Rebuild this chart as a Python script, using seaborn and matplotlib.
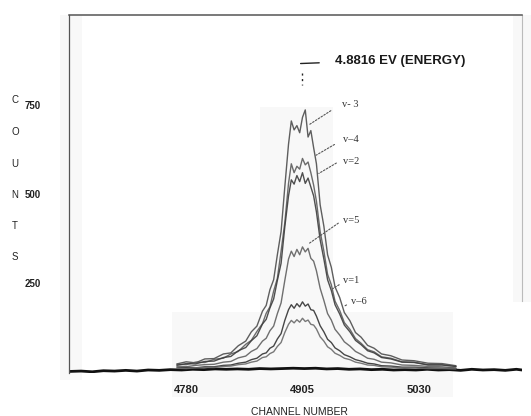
import matplotlib
matplotlib.use("Agg")
import matplotlib.pyplot as plt
from matplotlib.patches import Rectangle
import numpy as np
import pandas as pd
import seaborn as sns

# ---------------- data ----------------
channels = [4770, 4780, 4790, 4800, 4810, 4820, 4828, 4836, 4844, 4850,
            4856, 4862, 4866, 4870, 4874, 4878, 4882, 4886, 4890, 4893,
            4896, 4899, 4902, 4905, 4908, 4911, 4914, 4917, 4920, 4924,
            4928, 4932, 4936, 4940, 4945, 4950, 4956, 4962, 4968, 4975,
            4982, 4990, 5000, 5012, 5025, 5040, 5055, 5070]

v3 = [24, 30, 27, 38, 39, 52, 55, 75, 88, 114, 130, 172, 188, 232, 260, 330,
      395, 520, 640, 705, 680, 692, 672, 715, 736, 660, 678, 630, 585, 470,
      410, 330, 295, 240, 210, 168, 145, 112, 99, 76, 68, 52, 47, 35, 33, 26, 25, 19]
v4 = [23, 22, 29, 28, 37, 40, 52, 59, 79, 90, 115, 137, 166, 184, 228, 264,
      340, 420, 530, 585, 560, 578, 570, 600, 582, 590, 560, 525, 480, 395,
      340, 275, 246, 200, 174, 140, 121, 95, 82, 64, 58, 44, 40, 30, 29, 22, 22, 17]
v2 = [20, 25, 24, 31, 32, 42, 45, 61, 70, 89, 103, 136, 149, 181, 206, 258,
      306, 408, 495, 540, 528, 552, 535, 560, 530, 545, 520, 495, 450, 372,
      318, 260, 230, 190, 164, 133, 114, 90, 78, 61, 55, 42, 38, 29, 28, 21, 21, 17]
v5 = [17, 16, 20, 22, 23, 29, 31, 41, 46, 59, 67, 88, 96, 117, 130, 165,
      195, 258, 318, 340, 325, 345, 330, 352, 338, 348, 320, 312, 285, 236,
      202, 165, 147, 121, 105, 86, 74, 59, 51, 40, 37, 29, 27, 21, 20, 17, 16, 13]
v1 = [13, 14, 13, 16, 16, 20, 21, 26, 29, 36, 40, 52, 55, 68, 74, 94,
      109, 146, 176, 190, 180, 193, 184, 198, 186, 192, 176, 174, 158, 131,
      114, 93, 84, 69, 61, 50, 44, 36, 32, 26, 24, 19, 18, 15, 15, 13, 12, 11]
v6 = [12, 11, 13, 14, 14, 17, 18, 22, 24, 29, 32, 42, 44, 53, 58, 73,
      84, 112, 135, 146, 139, 148, 141, 152, 143, 147, 135, 133, 122, 100,
      88, 72, 65, 54, 48, 40, 36, 29, 26, 21, 20, 16, 15, 13, 13, 11, 11, 10]

base_channels = [4655, 4667, 4679, 4691, 4703, 4715, 4727, 4739, 4751, 4763,
                 4775, 4787, 4799, 4811, 4823, 4835, 4847, 4859, 4871, 4883,
                 4895, 4907, 4919, 4931, 4943, 4955, 4967, 4979, 4991, 5003,
                 5015, 5027, 5039, 5051, 5063, 5075, 5087, 5099, 5111, 5123,
                 5135, 5141]
base_counts = [3, 4, 2, 5, 4, 6, 4, 7, 6, 8, 7, 9, 8, 10, 9, 10, 9, 11, 10, 11,
               12, 11, 12, 10, 11, 9, 10, 8, 9, 7, 8, 7, 9, 7, 8, 6, 9, 7, 8, 6, 9, 7]

series_names = ["v=3", "v=4", "v=2", "v=5", "v=1", "v=6"]
series_vals = [v3, v4, v2, v5, v1, v6]
series_colors = ["#4d4d4d", "#5c5c5c", "#3c3c3c", "#606060", "#333333", "#6a6a6a"]

x_ticks = [4780, 4905, 5030]
y_ticks = [250, 500, 750]

# labels: (text, channel, counts, leader_from, leader_to)
curve_labels = [
    ("v- 3", 4947, 750, (4938, 738), (4910, 691)),
    ("v\u20134", 4949, 652, (4942, 643), (4917, 605)),
    ("v=2", 4949, 591, (4944, 591), (4920, 554)),
    ("v=5", 4949, 427, (4946, 423), (4910, 358)),
    ("v=1", 4949, 259, (4947, 250), (4935, 231)),
    ("v\u20136", 4957, 198, (4955, 193), (4950, 186)),
]

# ---------------- build data frame ----------------
rows = []
for name, vals in zip(series_names, series_vals):
    for c, v in zip(channels, vals):
        rows.append({"channel": c, "counts": v, "series": name})
df = pd.DataFrame(rows)
base_df = pd.DataFrame({"channel": base_channels, "counts": base_counts})

# ---------------- figure ----------------
sns.set_style("white")
plt.rcParams["font.family"] = ["Liberation Sans", "DejaVu Sans"]

W, H = 531, 416
fig = plt.figure(figsize=(W / 100, H / 100), dpi=100)

# faint scan shading (behind everything)
for (x0, y0, x1, y1) in [(60, 15, 82, 380), (172, 312, 453, 397),
                         (260, 107, 333, 313), (513, 15, 531, 302)]:
    fig.patches.append(Rectangle((x0 / W, 1 - y1 / H), (x1 - x0) / W, (y1 - y0) / H,
                                 transform=fig.transFigure, facecolor="#f8f8f8",
                                 edgecolor="none", zorder=-10))

ax = fig.add_axes([69 / W, (H - 372.5) / H, (522 - 69) / W, (372.5 - 15) / H])
ax.set_facecolor("none")
ax.set_zorder(5)

sns.lineplot(data=base_df, x="channel", y="counts", color="#111111",
             linewidth=2.0, ax=ax, legend=False, estimator=None)
sns.lineplot(data=df, x="channel", y="counts", hue="series",
             palette=dict(zip(series_names, series_colors)),
             linewidth=1.0, ax=ax, legend=False, estimator=None, alpha=0.9)

ax.set_xlim(4654, 5141)
ax.set_ylim(0, 1002)

ax.set_xticks(x_ticks)
ax.set_xticklabels([str(t) for t in x_ticks], fontsize=8, fontweight="bold")
ax.set_yticks(y_ticks)
ax.set_yticklabels([str(t) for t in y_ticks], fontsize=7, fontweight="bold")
ax.tick_params(axis="y", direction="out", length=6.5, width=0.8, pad=14, colors="#333333")
ax.tick_params(axis="x", direction="out", length=4, width=0.6, pad=5, colors="#444444")
for lab in ax.get_xticklabels() + ax.get_yticklabels():
    lab.set_color("#222222")
ax.set_xlabel("")
ax.set_ylabel("")

ax.spines["bottom"].set_visible(False)
ax.spines["left"].set_color("#555555")
ax.spines["left"].set_linewidth(0.9)
ax.spines["top"].set_color("#555555")
ax.spines["top"].set_linewidth(1.1)
ax.spines["right"].set_color("#bbbbbb")
ax.spines["right"].set_linewidth(0.8)
ax.spines["right"].set_bounds(200, 1002)

# axis titles
fig.text(299.5 / W, 1 - 412 / H, "CHANNEL NUMBER", ha="center", va="center",
         fontsize=7.5, color="#222222")
for letter, ypx in zip("COUNTS", [100, 132, 164, 195, 226, 257]):
    fig.text(15 / W, 1 - ypx / H, letter, ha="center", va="center",
             fontsize=7, color="#222222")

# energy annotation
ax.text(4940, 873, "4.8816 EV (ENERGY)", fontsize=9.5, fontweight="bold",
        ha="left", va="center", color="#1a1a1a")
ax.plot([4903, 4923], [866, 868], color="#222222", linewidth=1.0)
ax.plot([4904, 4904], [840, 806], color="#222222", linewidth=1.0, linestyle=(0, (1.5, 2.5)))

# curve labels with dotted leaders
for text, cx, cy, p0, p1 in curve_labels:
    ax.text(cx, cy, text, fontsize=7.5, family=["Liberation Serif", "DejaVu Serif"],
            ha="left", va="center", color="#333333")
    ax.annotate("", xy=p1, xytext=p0,
                arrowprops=dict(arrowstyle="-", linestyle=(0, (1.5, 1.5)),
                                color="#555555", linewidth=0.8))

fig.savefig("out.png", dpi=100)
